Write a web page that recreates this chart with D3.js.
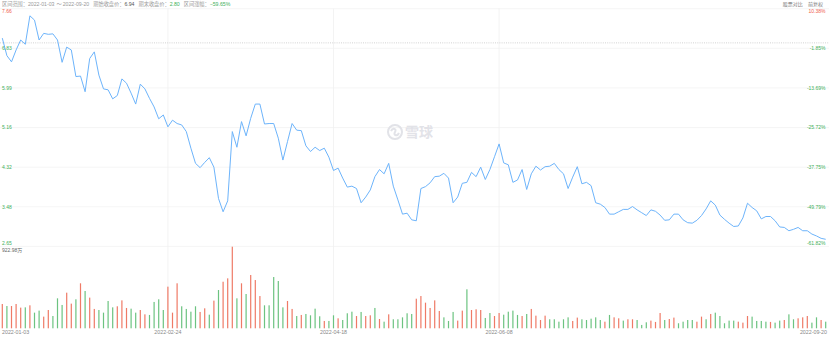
<!DOCTYPE html>
<html>
<head>
<meta charset="utf-8">
<script src="https://cdn.jsdelivr.net/npm/d3@7"></script>
<style>
  body { margin:0; background:#fff; }
  svg text { font-family:"Liberation Sans","Noto Sans CJK SC",sans-serif; }
</style>
</head>
<body>
<div id="chart"></div>
<script>
// close prices, one per trading day
var closes = [7.04,6.67,6.54,6.79,7.00,6.91,7.51,7.42,7.00,7.14,
  7.12,7.13,7.00,6.53,6.85,6.79,6.23,6.24,5.91,6.61,
  6.75,6.26,5.97,5.95,5.76,5.83,6.18,6.09,5.88,5.65,
  6.07,5.97,5.77,5.59,5.34,5.42,5.17,5.31,5.24,5.21,
  5.07,4.72,4.40,4.31,4.42,4.52,4.32,3.66,3.38,3.61,
  5.07,4.74,5.28,4.98,5.35,5.65,5.65,5.23,5.24,5.24,
  4.93,4.47,4.86,5.24,5.10,5.09,4.77,4.65,4.74,4.67,
  4.72,4.53,4.25,4.30,4.09,3.90,3.92,3.87,3.57,3.69,
  3.84,4.12,4.27,4.18,4.40,3.92,3.63,3.33,3.35,3.21,
  3.19,3.87,3.91,3.99,4.12,4.13,4.19,4.09,3.57,3.69,
  3.98,4.00,4.21,4.12,4.32,4.06,4.27,4.54,4.81,4.41,
  4.37,4.00,4.05,4.27,3.85,4.18,4.34,4.26,4.33,4.34,
  4.40,4.27,4.18,3.87,4.11,4.33,3.97,4.00,3.93,3.57,
  3.54,3.47,3.33,3.33,3.38,3.43,3.43,3.49,3.42,3.36,
  3.30,3.42,3.39,3.31,3.20,3.21,3.33,3.33,3.21,3.15,
  3.14,3.20,3.30,3.44,3.61,3.52,3.31,3.22,3.14,3.07,
  3.08,3.25,3.56,3.47,3.40,3.23,3.28,3.28,3.19,3.06,
  3.05,2.98,3.01,3.05,2.98,2.98,2.91,2.87,2.82,2.80];

// volume, 万
var volumes = [275,252,252,275,234,237,260,177,200,132,
  207,139,339,264,403,279,328,509,422,347,
  219,207,177,309,237,249,316,230,222,177,
  207,158,151,298,328,207,471,177,509,249,
  219,188,249,185,226,154,313,433,527,565,
  923,339,509,388,603,546,365,260,260,580,
  535,237,309,219,139,151,162,147,222,136,
  83,83,147,113,94,170,188,139,185,139,
  147,230,105,75,158,102,102,124,170,162,
  335,365,290,230,316,196,124,83,185,87,
  200,441,207,215,207,117,173,139,173,154,
  188,200,151,139,162,219,143,94,143,102,
  102,75,102,124,83,121,102,94,109,124,
  94,75,151,124,113,87,102,102,94,38,
  68,87,72,173,94,105,121,57,75,94,
  94,75,132,102,162,177,139,57,87,87,
  75,64,139,132,83,83,75,72,64,87,
  94,158,102,113,124,139,64,124,94,75];

// 1 = day closed above its open, 0 = below
var upDays = [1,0,1,1,1,0,1,0,0,1,
  1,0,0,0,1,1,0,1,0,1,
  1,0,0,0,0,1,1,1,0,0,
  1,1,0,0,0,0,1,1,1,0,
  0,0,0,1,1,0,1,0,1,1,
  1,0,1,0,1,1,1,0,0,0,
  0,0,1,1,0,1,0,0,0,0,
  1,0,0,1,0,0,0,1,0,1,
  1,0,1,0,1,0,0,0,0,0,
  1,1,1,1,1,1,0,0,0,1,
  1,0,1,1,1,0,0,1,1,0,
  0,0,0,1,0,1,1,1,1,0,
  0,0,0,0,1,1,0,0,0,0,
  0,1,0,1,1,0,1,1,0,0,
  0,1,1,1,0,1,1,0,0,0,
  0,1,1,0,1,0,0,0,0,0,
  1,1,1,0,0,0,0,1,0,0,
  1,0,0,1,1,1,0,0,1,0];

var baseClose = 6.94;
var priceTicks = ["7.66","6.83","5.99","5.16","4.32","3.48","2.65"];
var pctTicks = ["10.38%","-1.85%","-13.69%","-25.72%","-37.75%","-49.79%","-61.82%"];
var dateTickIdx = [0, 36, 72, 108, 179];
var dateTicks = ["2022-01-03","2022-02-24","2022-04-18","2022-06-08","2022-09-20"];
var volMax = 922.98;

var W = 829, H = 337;
var red = "#f0604d", green = "#3fb05a";

var svg = d3.select("#chart").append("svg")
  .attr("width", W).attr("height", H);

var x = d3.scaleLinear().domain([0, closes.length - 1]).range([2.3, 825.7]);
var y = d3.scaleLinear().domain([2.65, 7.66]).range([246.4, 8.7]);
var yv = d3.scaleLinear().domain([0, volMax]).range([328.3, 246.7]);

// horizontal grid
var gy = d3.range(priceTicks.length).map(function(i){
  return y(7.66 - i * (7.66 - 2.65) / (priceTicks.length - 1));
});
svg.selectAll(".hg").data(gy).enter().append("line")
  .attr("x1", 0).attr("x2", W)
  .attr("y1", function(d){ return d; }).attr("y2", function(d){ return d; })
  .attr("stroke", "#f2f2f2").attr("stroke-width", 0.8);

// vertical grid at inner date ticks
svg.selectAll(".vg").data(dateTickIdx.slice(1, -1)).enter().append("line")
  .attr("x1", function(d){ return x(d); }).attr("x2", function(d){ return x(d); })
  .attr("y1", 8.7).attr("y2", 328.3)
  .attr("stroke", "#f0f0f0").attr("stroke-width", 0.8);

// base price dotted line
svg.append("line")
  .attr("x1", 0).attr("x2", W)
  .attr("y1", y(baseClose)).attr("y2", y(baseClose))
  .attr("stroke", "#c8c8c8").attr("stroke-width", 0.8)
  .attr("stroke-dasharray", "1,1.2");

// watermark
var wm = svg.append("g").attr("transform", "translate(395,132)").attr("opacity", 0.9);
wm.append("circle").attr("r", 7).attr("fill", "none").attr("stroke", "#dfe0e6").attr("stroke-width", 2);
wm.append("path").attr("d", "M-4,-1 C-2,-5 2,-3 0,0 C-2,3 2,5 4,1")
  .attr("fill", "none").attr("stroke", "#dfe0e6").attr("stroke-width", 2);
wm.append("text").attr("x", 10).attr("y", 5).text("雪球")
  .attr("font-size", 14).attr("font-weight", "bold").attr("fill", "#dfe0e6")
  .style("font-family", "'Noto Sans CJK SC'");

// volume bars
svg.selectAll(".vol").data(volumes).enter().append("rect")
  .attr("x", function(d, i){ return x(i) - 0.6; })
  .attr("width", 1.2)
  .attr("y", function(d){ return yv(d); })
  .attr("height", function(d){ return yv(0) - yv(d); })
  .attr("fill", function(d, i){ return upDays[i] ? "#ef7a66" : "#6cc380"; });

// price line
var line = d3.line().x(function(d, i){ return x(i); }).y(function(d){ return y(d); });
svg.append("path").datum(closes)
  .attr("d", line).attr("fill", "none")
  .attr("stroke", "#6db4fb").attr("stroke-width", 1);

// left price labels
svg.selectAll(".pl").data(priceTicks).enter().append("text")
  .attr("x", 2)
  .attr("y", function(d, i){ return gy[i]; })
  .attr("dy", function(d, i){ return i === 0 ? "0.95em" : (i === priceTicks.length - 1 ? "-0.2em" : "0.35em"); })
  .attr("font-size", 5)
  .attr("fill", function(d, i){ return i === 0 ? red : green; })
  .text(function(d){ return d; });

// right percent labels
svg.selectAll(".pr").data(pctTicks).enter().append("text")
  .attr("x", 825.5).attr("text-anchor", "end")
  .attr("y", function(d, i){ return gy[i]; })
  .attr("dy", function(d, i){ return i === 0 ? "0.95em" : (i === pctTicks.length - 1 ? "-0.2em" : "0.35em"); })
  .attr("font-size", 5)
  .attr("fill", function(d, i){ return i === 0 ? red : green; })
  .text(function(d){ return d; });

// volume max label
svg.append("text").attr("x", 2).attr("y", 247).attr("dy", "0.95em")
  .attr("font-size", 5).attr("fill", "#666").text(d3.format(".2f")(volMax) + "万");

// date labels
svg.selectAll(".dl").data(dateTickIdx).enter().append("text")
  .attr("x", function(d, i){ return i === 0 ? 2 : (i === dateTickIdx.length - 1 ? 827 : x(d)); })
  .attr("y", 333.5)
  .attr("text-anchor", function(d, i){ return i === 0 ? "start" : (i === dateTickIdx.length - 1 ? "end" : "middle"); })
  .attr("font-size", 5.3).attr("fill", "#888")
  .text(function(d, i){ return dateTicks[i]; });

// header, one flowing line
var lastClose = closes[closes.length - 1];
var header = [
  {dx: 0, t: "区间范围：", c: "#999"},
  {dx: 0, t: "2022-01-03", c: "#999"},
  {dx: 2, t: "～", c: "#999"},
  {dx: 1, t: "2022-09-20", c: "#999"},
  {dx: 4, t: "期始收盘价：", c: "#999"},
  {dx: 0, t: baseClose.toFixed(2), c: "#555"},
  {dx: 4, t: "期末收盘价：", c: "#999"},
  {dx: 0, t: lastClose.toFixed(2), c: green},
  {dx: 4, t: "区间涨幅：", c: "#999"},
  {dx: 0, t: d3.format(".2f")((lastClose / baseClose - 1) * 100) + "%", c: green}
];
svg.append("text").attr("x", 2).attr("y", 6.3).attr("font-size", 5.2)
  .selectAll("tspan").data(header).enter().append("tspan")
  .attr("dx", function(d){ return d.dx; })
  .attr("fill", function(d){ return d.c; })
  .text(function(d){ return d.t; });

svg.append("text").attr("x", 802.7).attr("y", 6.3).attr("text-anchor", "end")
  .attr("font-size", 5).attr("fill", "#777").text("股票对比");
svg.append("text").attr("x", 823).attr("y", 6.3).attr("text-anchor", "end")
  .attr("font-size", 5).attr("fill", "#777").text("前复权");
</script>
</body>
</html>
